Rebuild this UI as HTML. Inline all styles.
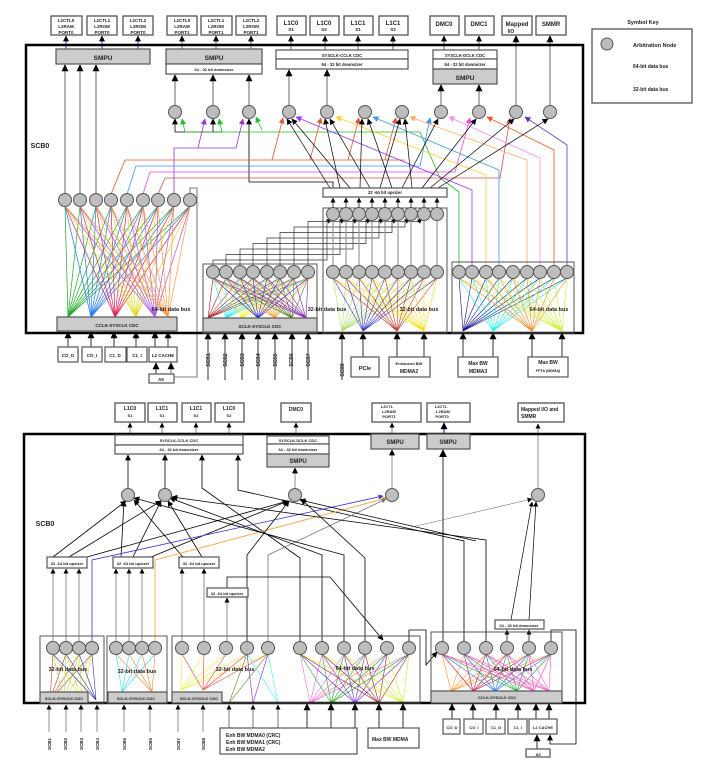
<!DOCTYPE html>
<html><head><meta charset="utf-8"><style>
html,body{margin:0;padding:0;background:#fff}
svg{display:block}
text{font-family:"Liberation Sans",sans-serif;font-weight:bold;fill:#222}
</style></head><body>
<svg id="s" width="710" height="767" viewBox="0 0 710 767" xmlns="http://www.w3.org/2000/svg">
<defs id="D"></defs>
<g id="L"></g>
<g id="B"></g>
<g id="T" font-size="5" text-anchor="middle">
<!-- top diagram box labels -->
<text x="66" y="22" font-size="4.5">L2CTL0</text><text x="66" y="28" font-size="4.5">L2RAM</text><text x="66" y="34" font-size="4.5">PORT0</text>
<text x="102" y="22" font-size="4.5">L2CTL1</text><text x="102" y="28" font-size="4.5">L2ROM</text><text x="102" y="34" font-size="4.5">PORT0</text>
<text x="138" y="22" font-size="4.5">L2CTL2</text><text x="138" y="28" font-size="4.5">L2ROM</text><text x="138" y="34" font-size="4.5">PORT0</text>
<text x="182" y="22" font-size="4.5">L2CTL0</text><text x="182" y="28" font-size="4.5">L2RAM</text><text x="182" y="34" font-size="4.5">PORT1</text>
<text x="216" y="22" font-size="4.5">L2CTL1</text><text x="216" y="28" font-size="4.5">L2ROM</text><text x="216" y="34" font-size="4.5">PORT1</text>
<text x="251" y="22" font-size="4.5">L2CTL2</text><text x="251" y="28" font-size="4.5">L2ROM</text><text x="251" y="34" font-size="4.5">PORT1</text>
<text x="291" y="25" font-size="6">L1C0</text><text x="291" y="31" font-size="4.5">S1</text>
<text x="324" y="25" font-size="6">L1C0</text><text x="324" y="31" font-size="4.5">S2</text>
<text x="358" y="25" font-size="6">L1C1</text><text x="358" y="31" font-size="4.5">S1</text>
<text x="393" y="25" font-size="6">L1C1</text><text x="393" y="31" font-size="4.5">S2</text>
<text x="444" y="26" font-size="6">DMC0</text>
<text x="479" y="26" font-size="6">DMC1</text>
<text x="517" y="26" font-size="6">Mapped</text><text x="511" y="33" font-size="5">I/O</text>
<text x="551" y="26" font-size="6">SMMR</text>
<text x="643" y="24" font-size="5.5">Symbol Key</text>
<text x="633" y="47" font-size="5.5" text-anchor="start">Arbitration Node</text>
<text x="633" y="68" font-size="5" text-anchor="start">64-bit data bus</text>
<text x="633" y="91" font-size="5" text-anchor="start">32-bit data bus</text>
<text x="103" y="60" font-size="6.5">SMPU</text>
<text x="214" y="60" font-size="6.5">SMPU</text>
<text x="214" y="71" font-size="4">64 - 32 bit downsizer</text>
<text x="342" y="57" font-size="4.2">SYSCLK-CCLK CDC</text>
<text x="342" y="66" font-size="4.2">64 - 32 bit downsizer</text>
<text x="465" y="57" font-size="4.2">SYSCLK-DCLK CDC</text>
<text x="465" y="66" font-size="4.2">64 - 32 bit downsizer</text>
<text x="465" y="80" font-size="6.5">SMPU</text>
<text x="40" y="148" font-size="7">SCB0</text>
<text x="385" y="194" font-size="4.2">32 -64 bit upsizer</text>
<text x="117" y="327" font-size="4.5">CCLK-SYSCLK CDC</text>
<text x="260" y="328" font-size="4.5">SCLK-SYSCLK CDC</text>
<text x="171" y="311" font-size="5.5">64-bit data bus</text>
<text x="327" y="311" font-size="5.5">32-bit data bus</text>
<text x="419" y="311" font-size="5.5">32-bit data bus</text>
<text x="549" y="311" font-size="5.5">64-bit data bus</text>
<text x="68" y="357" font-size="4.5">CO_D</text><text x="92" y="357" font-size="4.5">CO_I</text>
<text x="115" y="357" font-size="4.5">C1_D</text><text x="137" y="357" font-size="4.5">C1_I</text>
<text x="163" y="357" font-size="4.5">L2 CACHE</text>
<text x="161" y="381" font-size="4.5">A5</text>
<text x="365" y="370" font-size="5.5">PCIe</text>
<text x="409" y="365" font-size="4">Enhanced BW</text><text x="409" y="373" font-size="5">MDMA2</text>
<text x="478" y="365" font-size="5">Max BW</text><text x="478" y="373" font-size="5">MDMA3</text>
<text x="548" y="364" font-size="5">Max BW</text><text x="548" y="372" font-size="3.8">FFTA (MDMA)</text>
<g font-size="5">
<text transform="translate(210,360) rotate(-90)">SCB1</text>
<text transform="translate(227,360) rotate(-90)">SCB2</text>
<text transform="translate(244,360) rotate(-90)">SCB3</text>
<text transform="translate(260,360) rotate(-90)">SCB4</text>
<text transform="translate(277,360) rotate(-90)">SCB5</text>
<text transform="translate(293,360) rotate(-90)">SCB6</text>
<text transform="translate(310,360) rotate(-90)">SCB7</text>
<text transform="translate(344,370) rotate(-90)">SCB8</text>
</g>
<!-- bottom diagram -->
<text x="130" y="410" font-size="5">L1C0</text><text x="130" y="417" font-size="4">S1</text>
<text x="162" y="410" font-size="5">L1C1</text><text x="162" y="417" font-size="4">S1</text>
<text x="196" y="410" font-size="5">L1C1</text><text x="196" y="417" font-size="4">S2</text>
<text x="229" y="410" font-size="5">L1C0</text><text x="229" y="417" font-size="4">S2</text>
<text x="296" y="411" font-size="5">DMC0</text>
<text x="387" y="408" font-size="4">L2CTL</text><text x="389" y="413" font-size="4">L2RAM</text><text x="389" y="418" font-size="4">PORT1</text>
<text x="441" y="408" font-size="4">L2CTL</text><text x="443" y="413" font-size="4">L2RAM</text><text x="442" y="418" font-size="4">PORT0</text>
<text x="521" y="411" font-size="5" text-anchor="start">Mapped I/O and</text><text x="521" y="418" font-size="5" text-anchor="start">SMMR</text>
<text x="179" y="442" font-size="4">SYSCLK-CCLK CDC</text>
<text x="179" y="451" font-size="4">64 - 32 bit downsizer</text>
<text x="298" y="442" font-size="4">SYSCLK-DCLK CDC</text>
<text x="298" y="451" font-size="4">64 - 32 bit downsizer</text>
<text x="298" y="463" font-size="6">SMPU</text>
<text x="395" y="444" font-size="6">SMPU</text>
<text x="448" y="444" font-size="6">SMPU</text>
<text x="45" y="526" font-size="7">SCB0</text>
<text x="67" y="565" font-size="4">32 -64 bit upsizer</text>
<text x="133" y="565" font-size="4">32 -64 bit upsizer</text>
<text x="199" y="565" font-size="4">32 -64 bit upsizer</text>
<text x="227" y="595" font-size="4">32 -64 bit upsizer</text>
<text x="519" y="627" font-size="4">64 - 32 bit downsizer</text>
<text x="64" y="700" font-size="4">SCLK-SYSCLK CDC</text>
<text x="136" y="700" font-size="4">SCLK-SYSCLK CDC</text>
<text x="199" y="700" font-size="4">SCLK-SYSCLK CDC</text>
<text x="497" y="699" font-size="4">CCLK-SYSCLK CDC</text>
<text x="68" y="671" font-size="5.5">32-bit data bus</text>
<text x="137" y="673" font-size="5.5">32-bit data bus</text>
<text x="235" y="671" font-size="5.5">32-bit data bus</text>
<text x="355" y="670" font-size="5.5">64-bit data bus</text>
<text x="513" y="671" font-size="5.5">64-bit data bus</text>
<text x="452" y="729" font-size="4">CO_D</text><text x="474" y="729" font-size="4">CO_I</text>
<text x="496" y="729" font-size="4">C1_D</text><text x="518" y="729" font-size="4">C1_I</text>
<text x="543" y="729" font-size="4">L2 CACHE</text>
<text x="538" y="756" font-size="4">A5</text>
<text x="226" y="737" font-size="5" text-anchor="start">Enh BW MDMA0 (CRC)</text>
<text x="226" y="744" font-size="5" text-anchor="start">Enh BW MDMA1 (CRC)</text>
<text x="226" y="751" font-size="5" text-anchor="start">Enh BW MDMA2</text>
<text x="372" y="741" font-size="5" text-anchor="start">Max BW MDMA</text>
<g font-size="4.5">
<text transform="translate(51,750) rotate(-90)" text-anchor="start">SCB1</text>
<text transform="translate(67,750) rotate(-90)" text-anchor="start">SCB2</text>
<text transform="translate(83,750) rotate(-90)" text-anchor="start">SCB3</text>
<text transform="translate(99,750) rotate(-90)" text-anchor="start">SCB4</text>
<text transform="translate(126,750) rotate(-90)" text-anchor="start">SCB5</text>
<text transform="translate(152,750) rotate(-90)" text-anchor="start">SCB6</text>
<text transform="translate(180,750) rotate(-90)" text-anchor="start">SCB7</text>
<text transform="translate(205,750) rotate(-90)" text-anchor="start">SCB8</text>
</g>
</g>
</svg>
<script>
var S='http://www.w3.org/2000/svg',mks={};
function el(g,t,a){var e=document.createElementNS(S,t);for(var k in a)e.setAttribute(k,a[k]);document.getElementById(g).appendChild(e);return e;}
function mk(c,sz){var id='m'+c.replace('#','')+sz;if(!mks[id]){mks[id]=1;var m=el('D','marker',{id:id,viewBox:'0 0 10 10',refX:9,refY:5,markerWidth:sz,markerHeight:sz,markerUnits:'userSpaceOnUse',orient:'auto'});var p=document.createElementNS(S,'path');p.setAttribute('d','M0,0 L10,5 L0,10 z');p.setAttribute('fill',c);m.appendChild(p);}return 'url(#'+id+')';}
function ln(x1,y1,x2,y2,c,w,ac,sz){var a={x1:x1,y1:y1,x2:x2,y2:y2,stroke:c||'#000','stroke-width':w||1};if(ac)a['marker-end']=mk(ac,sz||7);el('L','line',a);}
function pl(p,c,w,ac,sz){var a={points:p.join(' '),fill:'none',stroke:c||'#000','stroke-width':w||1};if(ac)a['marker-end']=mk(ac,sz||7);el('L','polyline',a);}
function bx(x,y,w,h,f,sw,sc){el('B','rect',{x:x,y:y,width:w,height:h,fill:f||'#fff',stroke:sc||'#555','stroke-width':sw||1.2});}
function nd(x,y,r){el('B','circle',{cx:x,cy:y,r:r||6.5,fill:'#bdbdbd',stroke:'#555','stroke-width':1});}
function fan(src,sy,tg,ty,w){tg.forEach(function(t){src.forEach(function(s){ln(s,sy,t[0],ty,t[1],w||0.8);});});}
var K='#000',G='#999';
/* ===== TOP ===== */
[[51,31],[87,30],[123,30],[167,30],[201,31],[236,30],[277,29],[310,29],[344,29],[379,29],[430,29],[465,29],[502,30],[536,30]].forEach(function(b){bx(b[0],16,b[1],19,'#fff',1.3);});
[66,102,138].forEach(function(x){ln(x,49,x,36,'#33c',1,K,6);});
[182,216,251,291,325,358,393,444,479].forEach(function(x){ln(x,50,x,36,'#666',1,K,6);});
bx(26,45,557,288,'none',2.5,'#000');
bx(592,29,100,74,'#fff',1.3);nd(607,44,6);ln(617,44,624,44,K,1);
ln(605,80,605,59,'#33a',1,K,7);ln(617,66,624,66,K,1);
ln(605,97,605,83,K,1,K,6);ln(617,89,624,89,K,1);
bx(56,49,94,15,'#ccc');bx(166,49,96,15,'#ccc');bx(166,64,96,10);
bx(276,50,132,9);bx(276,59,132,10);
bx(433,50,64,9);bx(433,59,64,10);bx(433,69,64,15,'#ccc');
[65,80,96].forEach(function(x){ln(x,194,x,65,G,1.5,K,7);});
var U=[175,213,249,289,327,365,402,441,479,516,550];
U.forEach(function(x){nd(x,112);});
[175,213,249].forEach(function(x){ln(x,106,x,75,G,1.5,K,7);});
[289,327].forEach(function(x){ln(x,106,x,70,G,1.5,K,7);});
[441,479].forEach(function(x){ln(x,106,x,85,G,1.5,K,7);});
ln(516,106,516,36,G,1.5,K,7);ln(550,106,550,36,G,1.5,K,7);
/* black to 175/213/249 */
pl([[175,132],[222,132]],K,0.8);ln(175,132,175,119,K,0.8,K,6);ln(213,132,213,119,K,0.8,K,6);
pl([[249,182],[249,119]],K,0.8,K,6);pl([[249,182],[333,182],[333,188]],K,0.8);
/* green */
pl([[459,266],[459,192],[440,178],[420,132],[185,132],[182,119]],'#2b2',0.8,'#2b2',6);
ln(222,132,219,119,'#2b2',0.8,'#2b2',6);ln(262,130,256,117,'#2b2',0.8,'#2b2',6);
/* purple from left */
pl([[174,194],[174,148],[198,148],[205,119]],'#93c',0.8,'#93c',6);ln(236,148,243,119,'#93c',0.8,'#93c',6);pl([[198,148],[236,148]],'#93c',0.8);
/* colored horizontals from left nodes */
pl([[111,194],[125,160],[405,160]],'#d53',0.8);
[[272,283],[310,321],[348,359],[385,396]].forEach(function(p){ln(p[0],160,p[1],118,'#d53',0.8,'#d53',6);});
pl([[127,194],[136,166],[420,166],[430,118]],'#39f',0.8,'#39f',6);
pl([[143,194],[150,172],[455,172],[470,118]],'#e4e',0.8,'#e4e',6);
pl([[158,194],[165,178],[500,178],[510,118]],'#c55',0.8,'#c55',6);
/* from right box up */
pl([[472,266],[472,190],[296,117]],'#93f',0.8,'#93f',6);
pl([[486,266],[486,175],[336,117]],'#fc3',0.8,'#fc3',6);
pl([[499,266],[499,170],[373,117]],'#49d',0.8,'#49d',6);
pl([[527,266],[527,160],[410,117]],'#fa6',0.8,'#fa6',6);
pl([[540,266],[540,158],[449,117]],'#f8e',0.8,'#f8e',6);
pl([[554,266],[554,150],[487,117]],'#e52',0.8,'#e52',6);
pl([[567,266],[567,145],[525,117]],'#63b',0.8,'#63b',6);
/* black from upsizer to upper nodes */
[[330,287],[340,325],[350,292],[360,362],[370,330],[380,400],[392,368],[402,438],[412,405],[422,476],[430,514],[438,548]].forEach(function(p){ln(p[0],188,p[1],119,K,0.7,K,6);});
/* left node row & fans */
var LN=[65,80,96,111,127,143,158,174,190];
fan(LN,206,[[68,'#2a2'],[91,'#27f'],[115,'#d25'],[136,'#dd2'],[155,'#a5e'],[168,'#f94']],317,0.7);
LN.forEach(function(x){nd(x,200);});
pl([[190,194],[190,188],[197,188],[197,377],[171,377],[171,363]],'#555',0.8,K,7);
bx(57,317,120,14,'#ccc');
[68,91,114,136,155,168].forEach(function(x){ln(x,347,x,332,'#555',1.2,K,7);});
bx(58,347,20,15);bx(82,347,20,15);bx(105,347,21,15);bx(127,347,20,15);bx(149,347,28,15);bx(149,374,25,9);
ln(156,374,156,363,'#555',1.2,K,7);
/* middle box */
var MN=[213,226,240,253,267,280,294,308];
bx(203,264,114,69,'none',1);
fan(MN,278,[[208,'#a22'],[226,'#2ee'],[242,'#ee2'],[258,'#22b'],[275,'#f92'],[292,'#582'],[306,'#82b']],318,0.6);
MN.forEach(function(x,i){var y=260-5.5*i,tx=327+13*i;pl([[x,266],[x,y],[tx,y],[tx,222],[331+13*i,219]],'#333',0.7,K,5);});
MN.forEach(function(x){nd(x,272);});
bx(203,318,114,14,'#ccc');
[208,225,242,258,275,292,308].forEach(function(x){ln(x,380,x,333,'#555',1.2,K,7);});
/* right-mid */
var RM=[333,346,359,372,385,398,411,424,437];
bx(323,188,124,9);bx(323,208,124,125,'none',1);
fan(RM,278,[[342,'#ad6'],[363,'#33b'],[397,'#b32'],[424,'#fd0']],331,0.6);
RM.forEach(function(x){ln(x,266,x,220,G,1.2);ln(x,208,x,198,K,0.7,K,5);nd(x,214);nd(x,272);});
ln(342,380,342,333,'#555',1.2,K,7);ln(363,357,363,333,'#555',1.2,K,7);ln(397,363,397,333,'#555',1.2,K,7);ln(424,363,424,333,'#555',1.2,K,7);
bx(351,357,28,20);bx(389,357,41,20);
/* right box */
var RB=[459,472,486,499,513,527,540,554,567];
bx(452,262,122,71,'none',1);
fan(RB,278,[[463,'#118'],[493,'#2ee'],[532,'#e82'],[562,'#ce2']],331,0.6);
RB.forEach(function(x){nd(x,272);});
[463,493].forEach(function(x){ln(x,357,x,333,'#555',1.2,K,7);});[532,562].forEach(function(x){ln(x,357,x,333,'#555',1.2,K,7);});
bx(458,357,40,20);bx(528,357,40,20);
/* ===== BOTTOM ===== */
[[115,30],[148,29],[182,29],[215,29],[281,30],[372,49],[427,43],[518,46]].forEach(function(b){bx(b[0],403,b[1],19,'#fff',1.3);});
[130,162,196,229,296,392].forEach(function(x){ln(x,435,x,423,'#666',0.8,K,5);});
ln(444,434,444,423,'#33c',1.2,K,7);
bx(24,434,561,269,'none',2.5,'#000');
bx(115,435,128,10);bx(115,445,128,9);
bx(267,436,62,8);bx(267,444,62,10);bx(267,454,62,13,'#ccc');
bx(371,434,48,15,'#ccc');bx(427,434,43,15,'#ccc');
var BN=[[128,495],[165,495],[295,495],[392,495],[538,495]];
ln(128,489,128,455,K,0.8,K,6);ln(165,489,165,455,K,0.8,K,6);ln(295,489,295,468,'#777',0.8,K,6);ln(392,489,392,450,'#777',0.8,K,6);ln(538,489,538,424,'#777',0.8,K,5);
ln(443,641,443,450,'#777',1.5,K,8);
pl([[300,641],[300,558],[202,488],[202,455]],K,0.8,K,6);
pl([[464,641],[464,541],[238,490],[238,455]],K,0.8,K,6);
/* upsizers */
bx(47,557,40,11);bx(113,557,40,11);bx(179,557,40,11);bx(207,588,41,9);bx(495,620,49,9);
[[53,126],[69,161],[87,288]].forEach(function(p){ln(p[0],557,p[1],501,K,0.8,K,6);});
[[121,124],[133,161],[151,288]].forEach(function(p){ln(p[0],557,p[1],501,K,0.8,K,6);});
ln(183,557,134,500,K,0.8,K,6);ln(202,557,168,501,K,0.8,K,6);
pl([[92,641],[92,560],[383,496]],'#33c',0.8,'#33c',5);
pl([[155,641],[155,560],[387,498]],'#f93',0.8,'#f93',5);
pl([[247,641],[247,555],[289,501]],K,0.8,K,6);
pl([[268,641],[268,555],[386,499]],'#777',0.8,'#777',5);
pl([[322,641],[322,555],[170,498]],K,0.8,K,6);
pl([[344,641],[344,555],[134,498]],K,0.8,K,6);
pl([[365,641],[365,558],[301,499]],K,0.8,K,6);
pl([[486,641],[486,540],[172,497]],K,0.8,K,6);
pl([[476,541],[300,500]],K,0.8,K,6);
pl([[412,527],[532,499]],'#777',0.6,K,5);
ln(511,620,532,502,K,0.7,K,5);ln(529,620,536,502,K,0.7,K,5);
ln(507,641,507,630,K,0.7,K,5);ln(529,641,529,630,K,0.7,K,5);
pl([[227,588],[227,577],[330,577],[383,640]],K,0.8,K,6);
ln(227,641,227,598,'#777',0.8,K,5);
pl([[409,641],[409,630],[426,630],[426,665],[437,652]],K,0.8,K,6);
pl([[551,641],[551,630],[576,630],[576,744],[550,744],[550,735]],K,0.8,K,6);
[53,66,79].forEach(function(x){ln(x,641,x,569,'#777',0.8,K,5);});
[116,129,142].forEach(function(x){ln(x,641,x,569,'#777',0.8,K,5);});
ln(182,641,182,569,'#777',0.8,K,5);ln(204,641,204,569,'#777',0.8,K,5);
/* bottom groups */
bx(40,636,64,67,'none',1);bx(107,636,60,67,'none',1);bx(172,636,248,67,'none',1);bx(431,632,131,71,'none',1);
var g1=[53,66,79,92],g2=[116,129,142,155],g3=[182,204,226,247,268],g3b=[300,322,344,365,387,409],g4=[442,464,486,507,529,551];
fan(g1,654,[[50,'#c42'],[64,'#ad5'],[82,'#dd2'],[96,'#33a']],700,0.6);
fan(g2,654,[[122,'#3de'],[152,'#e83']],692,0.6);
fan(g3,654,[[181,'#ee3'],[203,'#e43']],690,0.6);
fan([247,268],654,[[229,'#582'],[253,'#82c'],[278,'#3ee']],703,0.6);
fan(g3b,654,[[310,'#f6c'],[331,'#1a2'],[355,'#72e'],[379,'#922'],[403,'#ce2']],703,0.6);
fan(g4,654,[[451,'#f93'],[473,'#c24'],[495,'#27f'],[517,'#2a4'],[534,'#f4b'],[549,'#f5c']],691,0.6);
g1.concat(g2,g3,g3b,g4).forEach(function(x){nd(x,648);});
BN.forEach(function(p){nd(p[0],p[1]);});
bx(40,692,48,11,'#ccc');bx(108,692,59,11,'#ccc');bx(172,692,50,11,'#ccc');bx(431,691,131,12,'#ccc');
[49,66,81,97,124,150,178,203].forEach(function(x){ln(x,732,x,705,'#777',0.8,K,5);});
[229,253,278].forEach(function(x){ln(x,728,x,705,'#555',0.8,K,5);});
[307,331,355,379,403].forEach(function(x){ln(x,728,x,704,'#555',1.2,K,7);});
bx(220,728,137,26);bx(368,728,51,20);
[452,473,496,518,536,549].forEach(function(x){ln(x,719,x,704,'#555',1.2,K,7);});
bx(443,719,17,15);bx(464,719,19,15);bx(486,719,19,15);bx(508,719,19,15);bx(529,719,28,15);bx(526,749,24,8);
ln(537,749,537,735,'#555',1.2,K,7);
</script>
</body></html>
